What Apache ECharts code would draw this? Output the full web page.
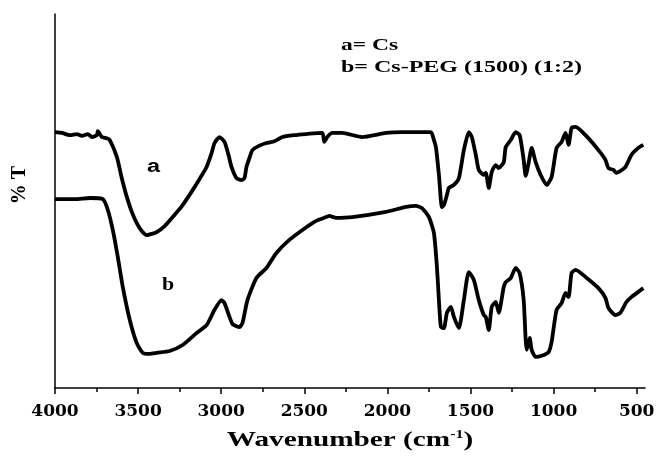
<!DOCTYPE html>
<html>
<head>
<meta charset="utf-8">
<script src="https://cdn.jsdelivr.net/npm/echarts@6/dist/echarts.min.js"></script>
<style>
  html, body { margin: 0; padding: 0; background: #fff; }
  #chart { width: 656px; height: 458px; }
</style>
</head>
<body>
<div id="chart"></div>
<script type="text/javascript">
// wavenumber (cm-1) and %T (arbitrary units)
var waveA = [4000, 3958, 3910, 3868, 3838, 3802, 3778, 3748, 3742, 3718, 3688, 3670, 3628, 3598, 3568, 3538, 3508, 3478, 3448, 3418,
  3388, 3340, 3292, 3232, 3172, 3130, 3088, 3058, 3040, 3010, 2980, 2956, 2938, 2908, 2878, 2860, 2848, 2830, 2812, 2770,
  2728, 2680, 2632, 2560, 2488, 2392, 2380, 2362, 2332, 2272, 2152, 2008, 1912, 1810, 1738, 1720, 1708, 1690, 1672, 1660,
  1642, 1630, 1600, 1570, 1540, 1510, 1492, 1468, 1450, 1420, 1408, 1390, 1372, 1348, 1330, 1300, 1288, 1258, 1228, 1204,
  1180, 1168, 1150, 1132, 1108, 1078, 1042, 1012, 982, 952, 928, 910, 892, 868, 808, 730, 688, 670, 640, 622,
  568, 532, 490, 460];
var transA = [68.4, 68.2, 67.6, 67.9, 67.4, 67.9, 67.1, 67.6, 68.7, 67.1, 66.8, 66.3, 61.8, 56.1, 51.1, 47.1, 44.1, 42.0, 40.9, 41.2,
  41.7, 43.3, 45.7, 48.9, 52.9, 55.9, 59.1, 62.8, 65.5, 67.1, 65.8, 62.3, 59.1, 56.1, 55.6, 56.1, 59.1, 61.5, 63.6, 64.8,
  65.5, 66.0, 67.1, 67.6, 67.9, 68.2, 65.8, 67.1, 68.2, 68.2, 67.1, 68.2, 68.4, 68.4, 68.4, 66.3, 64.4, 57.0, 48.4, 48.9,
  51.6, 53.5, 54.3, 56.1, 63.6, 68.4, 67.1, 62.3, 58.3, 57.0, 57.5, 53.5, 57.8, 59.6, 58.8, 60.4, 64.4, 66.3, 68.4, 67.6,
  61.0, 56.7, 60.2, 64.2, 60.4, 57.0, 54.3, 56.4, 64.2, 65.8, 68.2, 65.0, 69.5, 69.8, 67.6, 63.6, 61.0, 58.8, 58.3, 57.5,
  59.1, 62.3, 64.2, 65.0];

var waveB = [4000, 3880, 3790, 3712, 3682, 3652, 3622, 3592, 3550, 3508, 3472, 3430, 3388, 3310, 3232, 3148, 3088, 3040, 2998, 2980,
  2950, 2932, 2890, 2872, 2842, 2788, 2728, 2668, 2590, 2488, 2428, 2368, 2350, 2308, 2212, 2008, 1888, 1828, 1792, 1750,
  1720, 1702, 1690, 1678, 1660, 1642, 1618, 1600, 1570, 1540, 1510, 1480, 1450, 1420, 1408, 1390, 1372, 1348, 1330, 1300,
  1288, 1258, 1228, 1204, 1180, 1168, 1162, 1144, 1132, 1108, 1072, 1030, 1012, 982, 952, 928, 910, 892, 868, 808,
  730, 688, 670, 628, 598, 562, 532, 490, 460];
var transB = [50.5, 50.5, 50.8, 50.5, 47.6, 42.2, 35.0, 27.0, 18.2, 12.0, 9.4, 9.1, 9.4, 9.9, 11.5, 14.7, 16.8, 20.9, 23.5, 22.7,
  19.0, 17.1, 16.3, 17.4, 23.5, 29.4, 32.1, 36.1, 39.6, 43.0, 44.7, 45.7, 46.0, 45.5, 45.7, 47.1, 48.4, 48.7, 48.1, 45.7,
  41.4, 32.4, 23.5, 16.3, 16.0, 20.1, 21.7, 19.0, 16.0, 23.5, 31.0, 28.9, 23.5, 19.5, 19.0, 15.5, 21.7, 23.0, 20.1, 27.0,
  28.3, 29.4, 32.1, 30.7, 23.5, 12.8, 10.2, 13.4, 10.2, 8.3, 8.6, 9.6, 12.3, 20.9, 22.7, 25.4, 24.3, 30.7, 31.6, 29.7,
  26.7, 24.1, 21.4, 19.5, 20.1, 23.0, 24.3, 25.7, 26.7];

var majorTicks = [4000, 3500, 3000, 2500, 2000, 1500, 1000, 500];
var minorTicks = [3750, 3250, 2750, 2250, 1750, 1250, 750];

function pairs(xs, ys) {
  var out = [];
  for (var i = 0; i < xs.length; i++) out.push([xs[i], ys[i]]);
  return out;
}

var serif = '"Liberation Serif", "Times New Roman", serif';
var myChart = echarts.init(document.getElementById('chart'));
var option = {
  animation: false,
  grid: { left: 55, right: 11, top: 14, bottom: 70, containLabel: false, outerBoundsMode: 'none' },
  xAxis: [{
    type: 'value', inverse: true, min: 450, max: 4000,
    axisLine: { lineStyle: { color: '#000', width: 1.5 } },
    axisTick: { customValues: majorTicks, length: 6, lineStyle: { color: '#000', width: 1.5 } },
    axisLabel: { customValues: majorTicks, margin: 15, color: '#000', fontFamily: '"DejaVu Serif", serif',
      fontWeight: 'bold', fontSize: 17, formatter: function (v) { return String(v); } },
    splitLine: { show: false }
  }, {
    type: 'value', inverse: true, min: 450, max: 4000, position: 'bottom',
    axisLine: { show: false },
    axisTick: { customValues: minorTicks, length: 4, lineStyle: { color: '#000', width: 1.5 } },
    axisLabel: { show: false },
    splitLine: { show: false }
  }],
  yAxis: {
    type: 'value', min: 0, max: 100,
    axisLine: { show: true, lineStyle: { color: '#000', width: 1.5 } },
    axisTick: { show: false }, axisLabel: { show: false }, splitLine: { show: false }
  },
  series: [
    { name: 'a', type: 'line', data: pairs(waveA, transA), showSymbol: false, smooth: 0.2,
      lineStyle: { color: '#000', width: 3.8 } },
    { name: 'b', type: 'line', data: pairs(waveB, transB), showSymbol: false, smooth: 0.2,
      lineStyle: { color: '#000', width: 3.8 } }
  ],
  graphic: [
    { type: 'text', x: 341, y: 46, scaleX: 1.47,
      style: { text: 'a= Cs', font: 'bold 16px ' + serif, fill: '#000', verticalAlign: 'middle' } },
    { type: 'text', x: 341, y: 68, scaleX: 1.5,
      style: { text: 'b= Cs-PEG (1500) (1:2)', font: 'bold 16px ' + serif, fill: '#000', verticalAlign: 'middle' } },
    { type: 'text', x: 147, y: 167, scaleX: 1.3,
      style: { text: 'a', font: 'bold 18px "Liberation Sans", Arial, sans-serif', fill: '#000', verticalAlign: 'middle' } },
    { type: 'text', x: 162, y: 285, scaleX: 1.15,
      style: { text: 'b', font: 'bold 19px ' + serif, fill: '#000', verticalAlign: 'middle' } },
    { type: 'text', x: 20, y: 185, rotation: Math.PI / 2,
      style: { text: '% T', font: 'bold 20px ' + serif, fill: '#000', align: 'center', verticalAlign: 'middle' } },
    { type: 'text', x: 350, y: 440, scaleX: 1.33,
      style: { text: '{t|Wavenumber (cm}{s|-1}{t|)}', align: 'center', verticalAlign: 'middle',
        rich: { t: { font: 'bold 22px ' + serif, fill: '#000' }, s: { font: 'bold 12px ' + serif, fill: '#000', verticalAlign: 'top', padding: [0, 0, 8, 0] } } } }
  ]
};
myChart.setOption(option);
</script>
</body>
</html>
